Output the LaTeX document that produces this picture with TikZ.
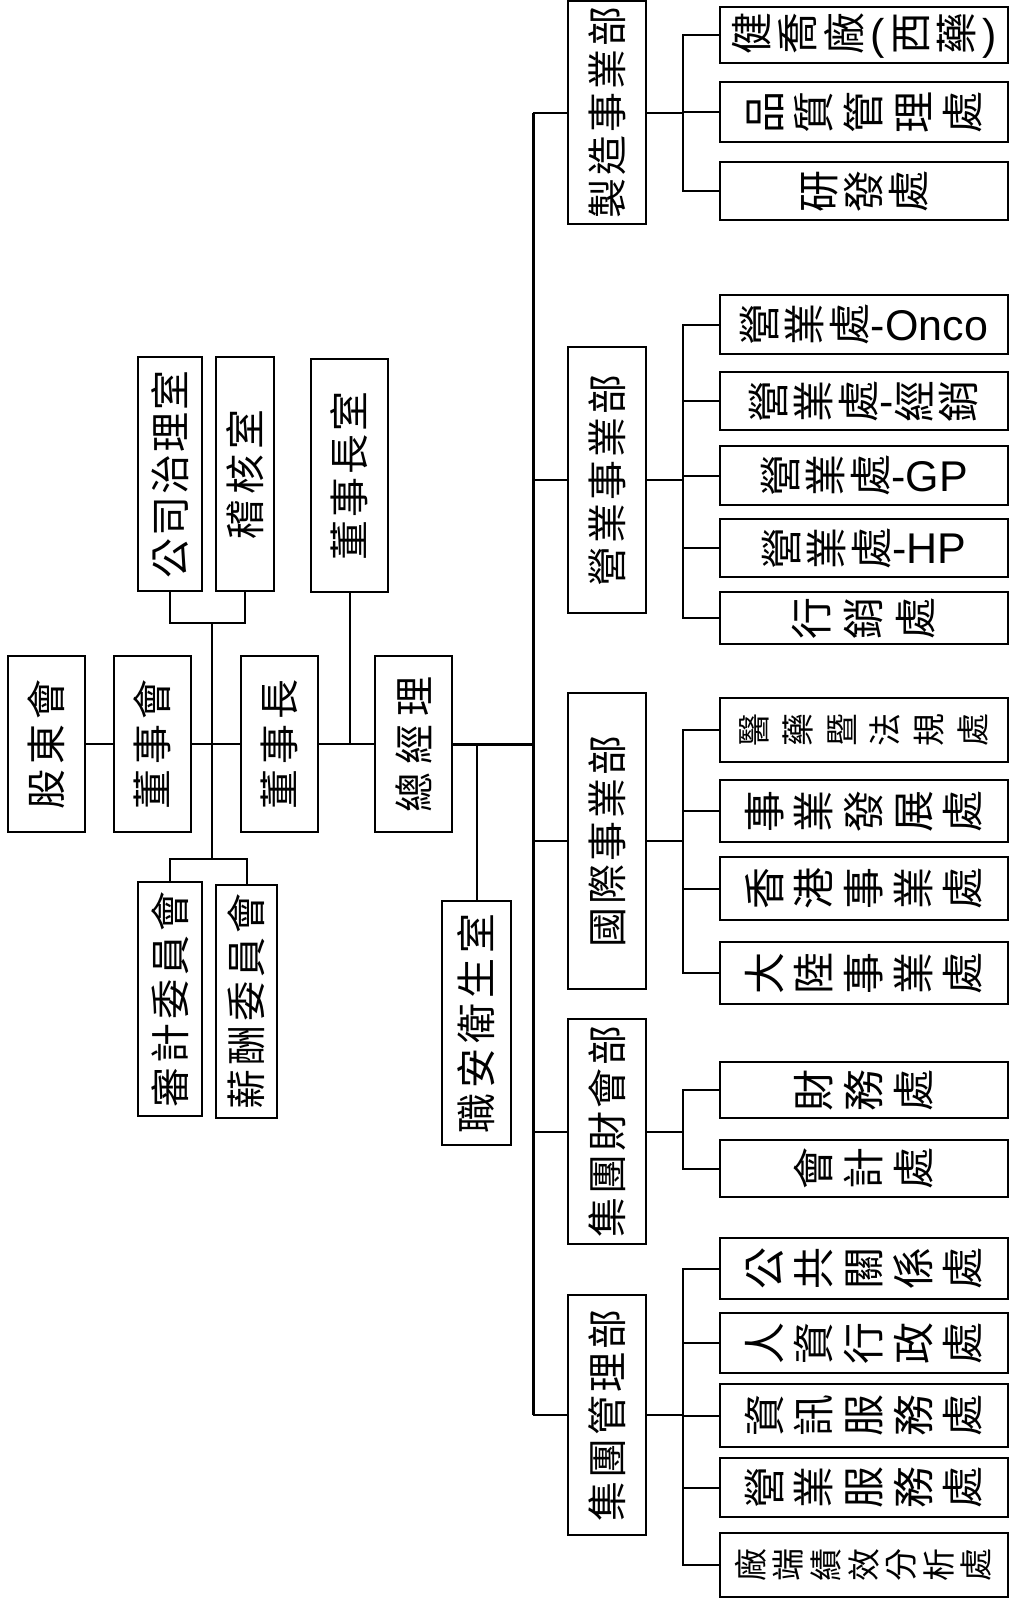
\documentclass[tikz,border=0pt]{standalone}
\usepackage{fontspec}
\setmainfont{Noto Sans CJK TC}
\newfontfamily\lat{Liberation Sans}
\makeatletter
% characters set one after another with a gap
\newcommand{\hz}[2][3pt]{\def\hz@sep{}\@tfor\hz@c:=#2\do{\hz@sep\hz@c\def\hz@sep{\hskip#1}}}
% one character turned on its side
\newcommand{\vc}[1]{\raisebox{-.12em}{\rotatebox{90}{\raisebox{0pt}[.88em][.12em]{#1}}}}
\newcommand{\vt}[2][5pt]{\def\vt@sep{}\@tfor\vt@c:=#2\do{\vt@sep\vc{\vt@c}\def\vt@sep{\hskip#1}}}
\makeatother
\newcommand{\lt}[1]{{\lat\fontsize{21.5pt}{24pt}\selectfont#1}}

\begin{document}
\begin{tikzpicture}[x=.5pt,y=-.5pt,
  orgbox/.style={draw,line width=1pt,inner sep=0pt,font=\fontsize{20pt}{23pt}\selectfont},
  tallbox/.style 2 args={orgbox,minimum width=#1,minimum height=#2},
  deptbox/.style={orgbox,minimum width=39pt,minimum height=#1},
  subbox/.style={orgbox,minimum width=144pt,minimum height=#1,font=\fontsize{21pt}{24pt}\selectfont},
  small/.style={font=\fontsize{16.5pt}{19pt}\selectfont},
  link/.style={line width=1pt},
  trunk/.style={line width=1.5pt}]
\useasboundingbox (0,0) rectangle (1008,1603);

%top level
\node[tallbox={38.5pt}{88pt}] (sh) at (46.5,744) {\rotatebox{90}{\hz[2.5pt]{股東會}}};
\node[tallbox={38.5pt}{88pt}] (bd) at (152.5,744) {\rotatebox{90}{\hz[2.5pt]{董事會}}};
\node[tallbox={38.5pt}{88pt}] (ch) at (279.5,744) {\rotatebox{90}{\hz[2.5pt]{董事長}}};
\node[tallbox={38.5pt}{88pt}] (gm) at (413.5,744) {\rotatebox{90}{\hz[4pt]{總經理}}};

%offices and committees
\node[tallbox={32pt}{117pt}] (cg) at (170,474) {\rotatebox{90}{\hz[1pt]{公司治理室}}};
\node[tallbox={29pt}{117pt}] (au) at (245,474) {\rotatebox{90}{\hz[2.5pt]{稽核室}}};
\node[tallbox={38.5pt}{116.5pt}] (co) at (349.5,475.5) {\rotatebox{90}{\hz[1.5pt]{董事長室}}};
\node[tallbox={32pt}{117pt}] (ac) at (170,999) {\rotatebox{90}{\hz[2pt]{審計委員會}}};
\node[tallbox={30.5pt}{116.5pt}] (rc) at (246.5,1001.5) {\rotatebox{90}{\hz[2pt]{薪酬委員會}}};
\node[tallbox={34.5pt}{122pt}] (sf) at (476.5,1023) {\rotatebox{90}{\hz[2.5pt]{職安衛生室}}};

%business units
\node[deptbox=111.5pt] (mfg) at (607,112.5) {\rotatebox{90}{\hz[1.5pt]{製造事業部}}};
\node[deptbox=133pt] (sal) at (607,480) {\rotatebox{90}{\hz[1.5pt]{營業事業部}}};
\node[deptbox=148pt] (intl) at (607,841) {\rotatebox{90}{\hz[1.5pt]{國際事業部}}};
\node[deptbox=112.5pt] (fin) at (607,1131.5) {\rotatebox{90}{\hz[1.5pt]{集團財會部}}};
\node[deptbox=120pt] (adm) at (607,1415) {\rotatebox{90}{\hz[1.5pt]{集團管理部}}};

%divisions
\node[subbox=28pt] (m1) at (863.5,35) {\vt[2.3pt]{健喬廠}\hskip2.3pt\lt{(}\hskip2.3pt\vt[2.3pt]{西藥}\hskip2.3pt\lt{)}};
\node[subbox=30pt] (m2) at (863.5,112) {\vt[3.8pt]{品質管理處}};
\node[subbox=29pt] (m3) at (863.5,191) {\vt[1.5pt]{研發處}};

\node[subbox=29.5pt] (s1) at (863.5,324.5) {\vt[1.5pt]{營業處}\lt{-Onco}};
\node[subbox=29pt] (s2) at (863.5,401) {\vt[1.5pt]{營業處}\lt{-}\vt[1pt]{經銷}};
\node[subbox=29.5pt] (s3) at (863.5,475.5) {\vt[1.5pt]{營業處}\lt{-GP}};
\node[subbox=29pt] (s4) at (863.5,548) {\vt[1.5pt]{營業處}\lt{-HP}};
\node[subbox=26pt] (s5) at (863.5,618) {\vt[5pt]{行銷處}};

\node[subbox=32pt,small] (i1) at (863.5,730) {\vt[5.4pt]{醫藥暨法規處}};
\node[subbox=31pt] (i2) at (863.5,811) {\vt[3.8pt]{事業發展處}};
\node[subbox=31.5pt] (i3) at (863.5,888.5) {\vt[3.8pt]{香港事業處}};
\node[subbox=31pt] (i4) at (863.5,973) {\vt[3.8pt]{大陸事業處}};

\node[subbox=28pt] (f1) at (863.5,1090) {\vt[4pt]{財務處}};
\node[subbox=28.5pt] (f2) at (863.5,1168.5) {\vt[4pt]{會計處}};

\node[subbox=30.5pt] (a1) at (863.5,1268.5) {\vt[3.8pt]{公共關係處}};
\node[subbox=30pt] (a2) at (863.5,1343) {\vt[3.8pt]{人資行政處}};
\node[subbox=31.5pt] (a3) at (863.5,1415.5) {\vt[3.8pt]{資訊服務處}};
\node[subbox=29.5pt] (a4) at (863.5,1487.5) {\vt[3.8pt]{營業服務處}};
\node[subbox=32pt,small] (a5) at (863.5,1565) {\vt[2.3pt]{廠端績效分析處}};

%lines
\draw[link] (sh.east) -- (bd.west);
\draw[link] (bd.east) -- (ch.west);
\draw[link] (ch.east) -- (gm.west);
\coordinate (up) at (212,623);
\coordinate (dn) at (212,859);
\draw[link] (cg.south) |- (up) -| (au.south);
\draw[link] (up) -- (dn);
\draw[link] (ac.north) |- (dn) -| (rc.north);
\draw[link] (co.south) -- (co.south |- ch.east);
\draw[link] (sf.north) -- (sf.north |- gm.east);

\draw[trunk] (gm.east) -- ++(80,0) coordinate (tr);
\draw[trunk] (tr |- mfg.west) -- (tr |- adm.west);
\foreach \d in {mfg,sal,intl,fin,adm}
  \draw[link] (tr |- \d.west) -- (\d.west);

\foreach \u in {m1,m2,m3}
  \draw[link] (mfg.east) -- ++(36,0) |- (\u.west);
\foreach \u in {s1,s2,s3,s4,s5}
  \draw[link] (sal.east) -- ++(36,0) |- (\u.west);
\foreach \u in {i1,i2,i3,i4}
  \draw[link] (intl.east) -- ++(36,0) |- (\u.west);
\foreach \u in {f1,f2}
  \draw[link] (fin.east) -- ++(36,0) |- (\u.west);
\foreach \u in {a1,a2,a3,a4,a5}
  \draw[link] (adm.east) -- ++(36,0) |- (\u.west);
\end{tikzpicture}
\end{document}
